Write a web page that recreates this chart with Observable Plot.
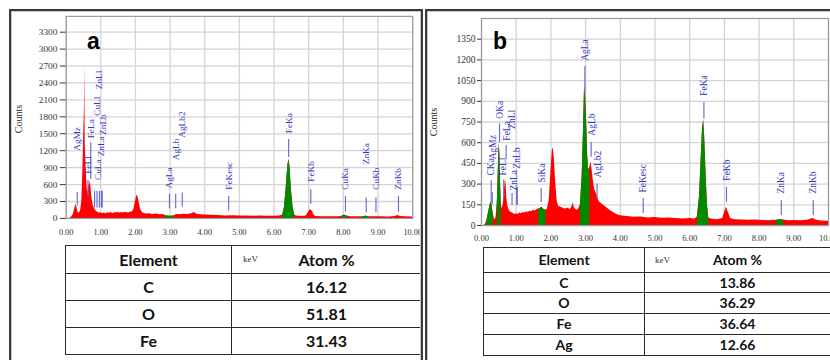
<!DOCTYPE html>
<html><head><meta charset="utf-8">
<script src="https://cdn.jsdelivr.net/npm/d3@7"></script>
<script src="https://cdn.jsdelivr.net/npm/@observablehq/plot@0.6"></script>
<style>
body{margin:0;background:#fff;}
#wrap{position:relative;width:830px;height:360px;overflow:hidden;background:#fff;}
.panel{position:absolute;box-sizing:border-box;border:2px solid #3a3a3a;box-shadow:inset 0 0 0 1px #c9c9c9;pointer-events:none;}
.clip{position:absolute;overflow:hidden;}
.clip svg{display:block;}
table.t{position:absolute;border-collapse:collapse;font-family:Lato,"Open Sans",sans-serif;font-weight:bold;color:#111;background:#fff;table-layout:fixed;}
table.t td{border:1.5px solid #2a2a2a;text-align:center;vertical-align:middle;padding:0;line-height:1;}
.kev{position:absolute;font-family:"Liberation Serif",serif;font-size:9px;color:#333;}
.counts{position:absolute;font-family:"Liberation Serif",serif;font-size:10px;color:#222;transform:translate(-50%,-50%) rotate(-90deg);white-space:nowrap;}
.letter{position:absolute;font-family:"Liberation Sans",Arial,sans-serif;font-weight:bold;font-size:23px;color:#000;line-height:1;}
</style></head><body><div id="wrap"></div>
<script>
// ---------- data ----------
const keVTicks = [0,1,2,3,4,5,6,7,8,9,10];
const countTicksA = [0,300,600,900,1200,1500,1800,2100,2400,2700,3000,3300];
const countTicksB = [0,150,300,450,600,750,900,1050,1200,1350];

// spectrum a: [keV, counts]
const specA = [
 [0.10,0],[0.15,20],[0.20,60],[0.24,150],[0.27,230],[0.29,245],[0.31,190],[0.34,110],[0.38,90],[0.42,150],
 [0.45,300],[0.48,800],[0.50,1300],[0.51,1950],[0.52,1350],[0.535,2700],[0.55,1300],[0.57,1000],[0.59,700],
 [0.61,500],[0.63,450],[0.65,620],[0.67,560],[0.69,650],[0.71,600],[0.73,450],[0.75,330],[0.78,230],[0.82,170],
 [0.86,130],[0.90,115],[0.95,95],[1.00,100],[1.05,85],[1.10,95],[1.15,80],[1.20,100],[1.25,90],[1.30,105],
 [1.35,85],[1.40,100],[1.45,95],[1.50,110],[1.55,90],[1.60,105],[1.65,95],[1.70,110],[1.75,100],[1.80,95],
 [1.85,110],[1.90,115],[1.95,150],[2.00,300],[2.04,410],[2.07,390],[2.10,300],[2.14,180],[2.18,120],[2.22,95],
 [2.30,80],[2.40,85],[2.50,70],[2.60,80],[2.70,65],[2.80,70],[2.85,55],[2.90,45],[3.00,40],[3.10,45],[3.15,60],
 [3.20,70],[3.30,65],[3.40,75],[3.50,70],[3.60,80],[3.70,105],[3.75,85],[3.80,70],[3.90,65],[4.00,60],[4.20,55],
 [4.40,50],[4.60,45],[4.80,48],[5.00,42],[5.20,45],[5.40,40],[5.60,42],[5.80,38],[6.00,40],[6.15,45],[6.25,60],
 [6.30,200],[6.35,550],[6.40,950],[6.43,1050],[6.46,900],[6.50,500],[6.55,180],[6.60,50],[6.70,40],[6.80,38],
 [6.90,40],[6.95,60],[7.00,120],[7.05,160],[7.10,130],[7.15,60],[7.20,35],[7.40,32],[7.60,30],[7.80,32],
 [7.95,35],[8.00,50],[8.05,55],[8.10,45],[8.20,30],[8.40,28],[8.55,30],[8.65,40],[8.75,30],[8.90,28],[9.10,30],
 [9.30,27],[9.50,35],[9.57,50],[9.65,35],[9.80,28],[10.00,25]
];
// spectrum b: [keV, counts]
const specB = [
 [0.08,0],[0.12,10],[0.16,40],[0.20,90],[0.24,140],[0.27,170],[0.30,150],[0.34,80],[0.38,40],[0.42,60],
 [0.46,200],[0.49,450],[0.51,595],[0.53,520],[0.55,300],[0.57,150],[0.60,120],[0.63,160],[0.66,250],[0.69,330],
 [0.71,300],[0.73,200],[0.76,140],[0.80,110],[0.85,95],[0.90,90],[0.95,80],[1.00,85],[1.05,80],[1.10,90],
 [1.15,85],[1.20,95],[1.25,90],[1.30,100],[1.35,95],[1.40,105],[1.45,100],[1.50,110],[1.55,105],[1.60,115],
 [1.65,120],[1.70,125],[1.74,132],[1.78,120],[1.82,115],[1.86,110],[1.90,120],[1.95,180],[2.00,380],[2.04,540],
 [2.07,562],[2.10,480],[2.14,300],[2.18,180],[2.22,140],[2.30,130],[2.40,120],[2.50,125],[2.55,115],[2.60,130],
 [2.64,165],[2.68,125],[2.75,110],[2.80,120],[2.85,150],[2.90,350],[2.94,700],[2.97,1010],[3.00,950],[3.03,750],
 [3.06,500],[3.09,400],[3.12,420],[3.15,460],[3.18,420],[3.22,330],[3.26,260],[3.30,240],[3.35,200],[3.40,170],
 [3.50,150],[3.60,130],[3.70,110],[3.80,95],[3.90,80],[4.00,70],[4.20,65],[4.40,60],[4.60,62],[4.80,55],
 [5.00,58],[5.20,52],[5.40,55],[5.60,50],[5.80,48],[6.00,50],[6.15,48],[6.22,60],[6.28,200],[6.33,480],
 [6.37,700],[6.40,765],[6.43,650],[6.47,380],[6.51,150],[6.55,55],[6.65,45],[6.80,42],[6.95,50],[7.00,90],
 [7.06,132],[7.12,90],[7.18,50],[7.30,42],[7.50,40],[7.70,38],[7.90,40],[8.10,36],[8.30,35],[8.50,38],
 [8.60,42],[8.70,40],[8.85,35],[9.00,36],[9.20,34],[9.40,38],[9.55,50],[9.65,38],[9.80,32],[10.00,30]
];

// identified (green) peak ranges, keV
const greenA = [[2.85,3.12],[6.25,6.60],[7.95,8.15],[8.55,8.75]];
const greenB = [[0.16,0.36],[0.44,0.59],[1.62,1.86],[2.85,3.12],[6.22,6.55],[8.45,8.80]];

// markers: [label, line keV, line low, line high, label keV, label base counts]
const markersA = [
 ["AgMz",0.32,220,460,0.30,1200],
 ["FeLl",0.63,390,670,0.63,790],
 ["FeLa",0.71,690,1340,0.73,1420],
 ["CuLl",0.82,185,480,0.88,1820],
 ["ZnLl",0.89,185,480,0.94,2290],
 ["CuLa",0.96,185,480,0.93,680],
 ["ZnLa",1.02,185,480,1.00,1100],
 ["ZnLb",1.04,185,480,1.07,1480],
 ["AgLa",2.98,170,430,2.98,530],
 ["AgLb",3.16,170,430,3.16,1030],
 ["AgLb2",3.35,200,450,3.35,1430],
 ["FeKesc",4.69,130,390,4.69,510],
 ["FeKa",6.42,1080,1400,6.42,1510],
 ["FeKb",7.06,250,510,7.06,650],
 ["CuKa",8.06,115,390,8.06,510],
 ["ZnKa",8.66,100,360,8.66,960],
 ["CuKb",8.94,100,360,8.94,510],
 ["ZnKb",9.59,110,390,9.59,510]
];
const markersB = [
 ["CKa",0.28,160,325,0.27,362],
 ["AgMz",0.31,150,240,0.34,480],
 ["OKa",0.52,600,737,0.53,774],
 ["FeLl",0.64,200,330,0.63,362],
 ["FeLa",0.71,484,578,0.72,615],
 ["ZnLl",0.88,145,231,0.87,700],
 ["ZnLa",1.01,145,275,0.93,253],
 ["ZnLb",1.03,145,275,1.02,412],
 ["SiKa",1.72,166,268,1.73,311],
 ["AgLa",2.98,950,1150,2.98,1193],
 ["AgLb",3.16,494,602,3.17,651],
 ["AgLb2",3.33,195,300,3.35,347],
 ["FeKesc",4.66,87,195,4.66,239],
 ["FeKa",6.41,771,891,6.41,940],
 ["FeKb",7.06,168,277,7.06,325],
 ["ZnKa",8.64,72,181,8.64,231],
 ["ZnKb",9.56,72,181,9.56,231]
];

// tables
const elementsA = ["C","O","Fe"];
const atomPctA = ["16.12","51.81","31.43"];
const elementsB = ["C","O","Fe","Ag"];
const atomPctB = ["13.86","36.29","36.64","12.66"];

// ---------- drawing ----------
function spectrumPlot(o){
  const data = o.spec.map(([e,c])=>({e,c}));
  const green = o.greens.flatMap((r,i)=>data.filter(d=>d.e>=r[0]&&d.e<=r[1]).map(d=>({...d,g:i})));
  const mk = o.markers.map(([name,e,lo,hi,lx,ly])=>({name,e,lo,hi,lx,ly}));
  return Plot.plot({
    width:o.width, height:o.height,
    marginLeft:o.mL, marginRight:o.mR, marginTop:o.mT, marginBottom:o.mB,
    style:{background:"none",fontFamily:"Liberation Serif, serif",color:"#333"},
    x:{domain:[0,10]},
    y:{domain:[0,o.yMax]},
    marks:[
      Plot.ruleX(keVTicks,{x:d=>d,stroke:"#d4d4d4",strokeWidth:1.3}),
      Plot.ruleY(o.yTicks,{y:d=>d,stroke:"#d4d4d4",strokeWidth:1.3}),
      Plot.areaY(data,{x:"e",y:"c",fill:"#ff0000"}),
      Plot.areaY(green,{x:"e",y:"c",z:"g",fill:"#008a00"}),
      Plot.ruleX(mk,{x:"e",y1:"lo",y2:"hi",stroke:"#6d6dd6",strokeWidth:1.2}),
      Plot.text(mk,{x:"lx",y:"ly",text:"name",rotate:-90,textAnchor:"start",lineAnchor:"middle",fill:"#3535c0",fontSize:9.5,fontFamily:"Liberation Serif, serif"}),
      Plot.frame({stroke:"#9a9a9a",strokeWidth:1.2}),
      Plot.axisX(keVTicks,{tickFormat:d=>d.toFixed(2),tickSize:0,tickPadding:o.xPad,fontSize:8.5,label:null,fill:"#333"}),
      Plot.axisY(o.yTicks,{tickFormat:d=>String(d),tickSize:o.tick,tickPadding:o.yPad,fontSize:9.5,label:null,fill:"#333",stroke:"#333"})
    ]
  });
}

const wrap = document.getElementById("wrap");
function add(html){const d=document.createElement("div");d.innerHTML=html;const el=d.firstElementChild;wrap.appendChild(el);return el;}

// panel a plot
const clipA = add('<div class="clip" style="left:11px;top:11px;width:410px;height:240px"></div>');
clipA.appendChild(spectrumPlot({spec:specA,greens:greenA,markers:markersA,yMax:3580,yTicks:countTicksA,
  width:420,height:235,mL:56,mR:9,mT:5,mB:23,tick:6,yPad:3,xPad:11}));
// panel b plot
const clipB = add('<div class="clip" style="left:427px;top:11px;width:403px;height:240px"></div>');
clipB.appendChild(spectrumPlot({spec:specB,greens:greenB,markers:markersB,yMax:1500,yTicks:countTicksB,
  width:403,height:237,mL:54,mR:2,mT:7,mB:23,tick:4,yPad:2,xPad:9}));

// labels
add('<div class="counts" style="left:18px;top:119px">Counts</div>');
add('<div class="counts" style="left:433px;top:122px">Counts</div>');
add('<div class="letter" style="left:87px;top:30px">a</div>');
add('<div class="letter" style="left:493px;top:30px">b</div>');

// tables
function table(left,top,w1,w2,heights,fs,els,vals){
  let rows = `<tr style="height:${heights[0]}px"><td style="width:${w1}px">Element</td><td style="width:${w2}px">Atom %</td></tr>`;
  els.forEach((e,i)=>{rows+=`<tr style="height:${heights[i+1]}px"><td>${e}</td><td>${vals[i]}</td></tr>`;});
  add(`<table class="t" style="left:${left}px;top:${top}px;width:${w1+w2}px;font-size:${fs}px">${rows}</table>`);
}
table(65,245,165,189,[28,27,27,27],16,elementsA,atomPctA);
table(483,247,160,185,[25,20,21,21,21],14,elementsB,atomPctB);
add('<div class="kev" style="left:243px;top:254px">keV</div>');
add('<div class="kev" style="left:655px;top:255px">keV</div>');

// panel frames
add('<div class="panel" style="left:9px;top:9px;width:414px;height:360px"></div>');
add('<div class="panel" style="left:425px;top:9px;width:420px;height:360px"></div>');
</script></body></html>
